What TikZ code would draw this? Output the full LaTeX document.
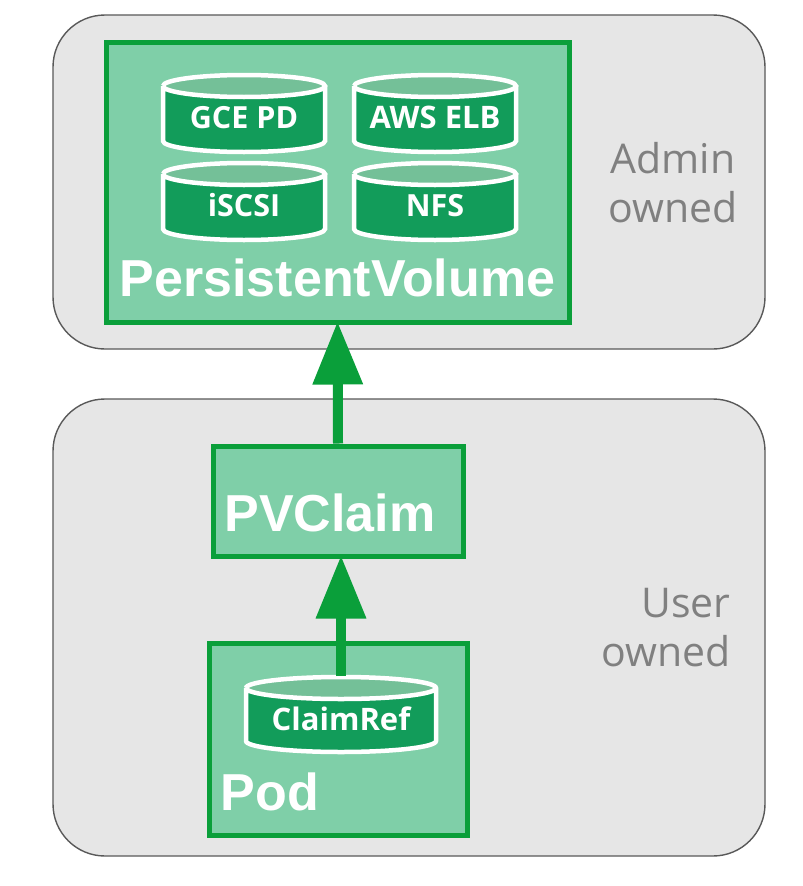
\documentclass[tikz,border=0pt]{standalone}
\usepackage{fontspec}
\setmainfont{Open Sans}
\newfontfamily\bigfont{Liberation Sans}
\usetikzlibrary{arrows.meta}
\definecolor{grn}{HTML}{0A9F3A}
\definecolor{pale}{HTML}{7FCFA8}
\definecolor{dark}{HTML}{129C5A}
\definecolor{lid}{HTML}{74C098}
\definecolor{panel}{HTML}{E6E6E6}
\tikzset{
  panelbox/.style={draw=black!65,line width=1.4pt,fill=panel,rounded corners=52pt,inner sep=0},
  greenbox/.style={draw=grn,line width=5pt,fill=pale,inner sep=0},
  ownerlabel/.style={text=black!50,font=\fontsize{41}{49}\selectfont},
  biglabel/.style={text=white,font=\bigfont\bfseries\fontsize{52}{56}\selectfont},
  flow/.style={draw=grn,line width=10pt,-{Triangle[length=63pt,width=48pt]},shorten >=-3pt},
  cyltext/.style={text=white,font=\bfseries\fontsize{#1}{#1}\selectfont,inner sep=0,anchor=center}
}
% name, cx, top y, width, height, ry, text, size
\newcommand{\drumshape}[8]{%
  \fill[dark] (#2-#4/2,#3+#6) -- (#2+#4/2,#3+#6)
     -- (#2+#4/2,#3+#5-#6) arc[x radius=#4/2,y radius=#6,start angle=0,end angle=180] -- cycle;
  \fill[lid] (#2,#3+#6) ellipse[x radius=#4/2,y radius=#6];
  \draw[white,line width=4.5pt] (#2-#4/2,#3+#6) arc[x radius=#4/2,y radius=#6,start angle=180,end angle=-180]
     (#2-#4/2,#3+#6) -- (#2-#4/2,#3+#5-#6) arc[x radius=#4/2,y radius=#6,start angle=180,end angle=0] -- (#2+#4/2,#3+#6);
  \node[cyltext=#8] (#1) at (#2,#3+#5/2+4) {#7};
}
\begin{document}
\begin{tikzpicture}[x=1pt,y=-1pt]
\useasboundingbox (0,0) rectangle (803,886);
\fill[white] (0,0) rectangle (803,886);
\node[panelbox,minimum width=712pt,minimum height=334pt] (adminpanel) at (409,182) {};
\node[panelbox,minimum width=712pt,minimum height=457pt] (userpanel) at (409,627.5) {};
\node[ownerlabel,align=center] (admin) at (673,183) {Admin\\owned};
\node[ownerlabel,align=right,anchor=east] (user) at (734,628) {User\\owned};
\node[greenbox,minimum width=463pt,minimum height=280pt] (pv) at (337.5,182) {};
\node[greenbox,minimum width=250pt,minimum height=110pt] (pvc) at (338,501) {};
\node[greenbox,minimum width=258pt,minimum height=192pt] (pod) at (338,739) {};
\drumshape{gce}{244}{75}{162}{77}{11}{GCE PD}{30.5}
\drumshape{aws}{435}{75}{162}{77}{11}{AWS ELB}{31}
\drumshape{iscsi}{244}{163}{162}{77}{11}{iSCSI}{30.5}
\drumshape{nfs}{435}{163}{162}{77}{11}{NFS}{30.5}
\drumshape{ref}{341}{677}{190}{75}{11}{ClaimRef}{31}
\node[biglabel] (pvtext) at (337.5,278) {PersistentVolume};
\node[biglabel] (pvctext) at (330,513) {PVClaim};
\node[biglabel] (podtext) at (270,792) {Pod};
\draw[flow] (pvc.north) -- (pv.south);
\coordinate (refTop) at (ref.center |- 0,676);
\coordinate (pvcIn) at (pvc.south -| ref.center);
\draw[flow] (refTop) -- (pvcIn);
\end{tikzpicture}
\end{document}
